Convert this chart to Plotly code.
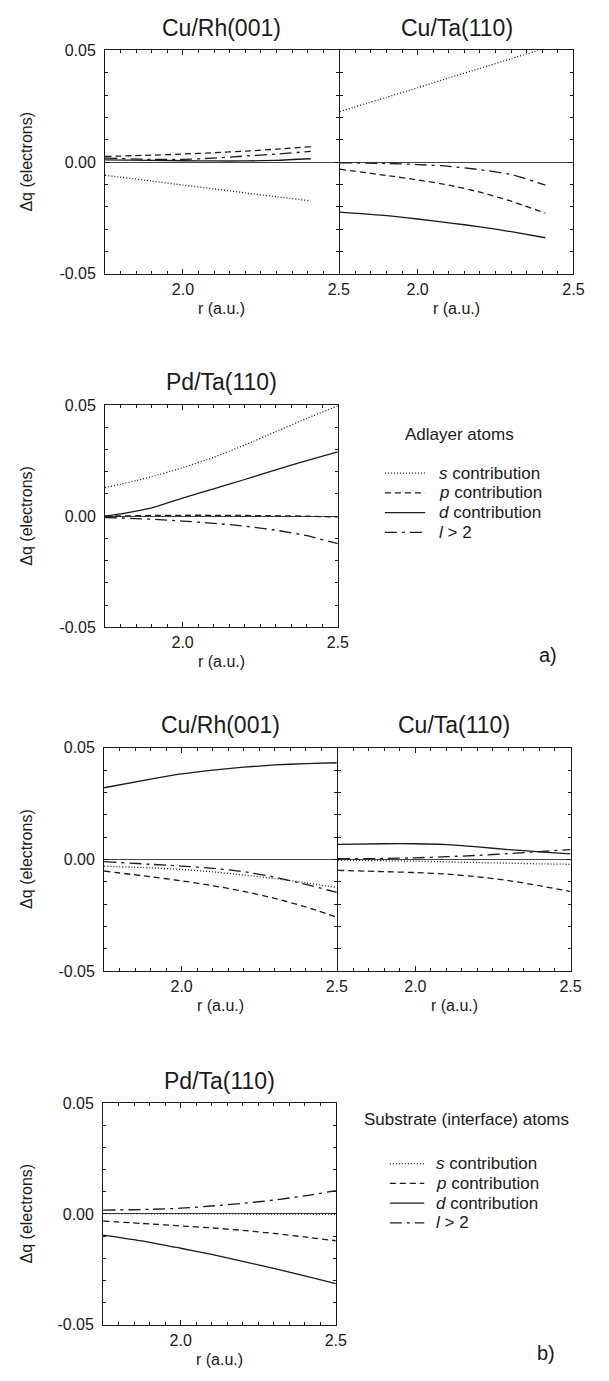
import plotly.graph_objects as go

W, H = 609, 1381

# ---------------- data ----------------
r_top = [1.75, 1.9, 2.0, 2.1, 2.2, 2.3, 2.41]
r_full = [1.75, 1.9, 2.0, 2.1, 2.2, 2.3, 2.4, 2.5]
r_pd = [1.75, 1.8, 1.85, 1.9, 2.0, 2.1, 2.2, 2.3, 2.4, 2.5]

# a) Adlayer atoms
ad_curh_s = [-0.0059, -0.0085, -0.0103, -0.0120, -0.0138, -0.0155, -0.0174]
ad_curh_p = [0.0025, 0.0031, 0.0036, 0.0042, 0.0049, 0.0058, 0.0069]
ad_curh_d = [0.0010, 0.0008, 0.0006, 0.0005, 0.0005, 0.0008, 0.0015]
ad_curh_l = [0.0018, 0.0012, 0.0012, 0.0018, 0.0027, 0.0036, 0.0048]

ad_cuta_s = [0.0226, 0.0290, 0.0333, 0.0377, 0.0420, 0.0463, 0.0510]
ad_cuta_p = [-0.0032, -0.0060, -0.0080, -0.0103, -0.0135, -0.0175, -0.0229]
ad_cuta_d = [-0.0224, -0.0240, -0.0255, -0.0272, -0.0290, -0.0312, -0.0339]
ad_cuta_l = [-0.0003, -0.0006, -0.0011, -0.0019, -0.0034, -0.0056, -0.0103]

ad_pdta_s = [0.0129, 0.0144, 0.0160, 0.0178, 0.0218, 0.0265, 0.0320, 0.0380, 0.0440, 0.0496]
ad_pdta_p = [0.0000, 0.0001, 0.0002, 0.0003, 0.0004, 0.0004, 0.0003, 0.0002, 0.0000, -0.0004]
ad_pdta_d = [0.0000, 0.0010, 0.0023, 0.0037, 0.0081, 0.0123, 0.0165, 0.0208, 0.0250, 0.0289]
ad_pdta_l = [-0.0006, -0.0008, -0.0011, -0.0014, -0.0022, -0.0032, -0.0045, -0.0063, -0.0088, -0.0124]

# b) Substrate (interface) atoms
su_curh_s = [-0.0030, -0.0038, -0.0045, -0.0056, -0.0070, -0.0086, -0.0105, -0.0126]
su_curh_p = [-0.0052, -0.0078, -0.0096, -0.0118, -0.0143, -0.0175, -0.0213, -0.0259]
su_curh_d = [0.0321, 0.0360, 0.0383, 0.0400, 0.0413, 0.0423, 0.0429, 0.0433]
su_curh_l = [-0.0010, -0.0022, -0.0030, -0.0040, -0.0055, -0.0080, -0.0112, -0.0148]

su_cuta_s = [-0.0003, -0.0006, -0.0008, -0.0011, -0.0014, -0.0017, -0.0020, -0.0022]
su_cuta_p = [-0.0049, -0.0055, -0.0059, -0.0066, -0.0078, -0.0095, -0.0118, -0.0144]
su_cuta_d = [0.0067, 0.0070, 0.0070, 0.0066, 0.0056, 0.0044, 0.0034, 0.0025]
su_cuta_l = [0.0003, 0.0004, 0.0007, 0.0012, 0.0018, 0.0026, 0.0035, 0.0044]

su_pdta_s = [0.0002, 0.0001, 0.0001, 0.0000, 0.0000, -0.0001, -0.0001, -0.0002]
su_pdta_p = [-0.0032, -0.0045, -0.0054, -0.0063, -0.0074, -0.0088, -0.0104, -0.0121]
su_pdta_d = [-0.0096, -0.0128, -0.0155, -0.0183, -0.0214, -0.0246, -0.0280, -0.0315]
su_pdta_l = [0.0017, 0.0021, 0.0026, 0.0036, 0.0048, 0.0063, 0.0082, 0.0105]

panel_titles = ["Cu/Rh(001)", "Cu/Ta(110)", "Pd/Ta(110)",
                "Cu/Rh(001)", "Cu/Ta(110)", "Pd/Ta(110)"]
legend_names = ["<i>s</i> contribution", "<i>p</i> contribution",
                "<i>d</i> contribution", "<i>l</i> > 2"]
legend_titles = ["Adlayer atoms", "Substrate (interface) atoms"]
panel_letters = ["a)", "b)"]
x_ticks = [2.0, 2.5]
x_ticktext = ["2.0", "2.5"]
y_ticks = [-0.05, 0.0, 0.05]
y_ticktext = ["-0.05", "0.00", "0.05"]

# ---------------- layout geometry (pixels) ----------------
FONT = "Liberation Sans, Arial, Helvetica, sans-serif"
INK = "#1a1a1a"
boxes = [  # x0, x1, y0(top), y1(bottom)
    (107, 345, 43, 269),
    (346, 584, 43, 269),
    (107, 344, 402, 627),
    (106, 343, 749, 975),
    (344, 581, 749, 975),
    (105, 342, 1109, 1333),
]
ylabels_on = [True, False, True, True, False, True]

panels = [
    (r_top, [ad_curh_s, ad_curh_p, ad_curh_d, ad_curh_l]),
    (r_top, [ad_cuta_s, ad_cuta_p, ad_cuta_d, ad_cuta_l]),
    (r_pd, [ad_pdta_s, ad_pdta_p, ad_pdta_d, ad_pdta_l]),
    (r_full, [su_curh_s, su_curh_p, su_curh_d, su_curh_l]),
    (r_full, [su_cuta_s, su_cuta_p, su_cuta_d, su_cuta_l]),
    (r_full, [su_pdta_s, su_pdta_p, su_pdta_d, su_pdta_l]),
]

dashes = ["1px,2px", "6px,4px", "solid", "12px,5px,3px,5px"]
LW = 1.3

# legend blocks: (title x-center, title y, swatch x0, swatch x1, text x, first row y, row step, letter x, letter y)
legend_geo = [
    (468, 432, 392, 433, 445, 471, 20, 558, 655),
    (475, 1125, 397, 432, 442, 1170, 20, 556, 1362),
]


def px_x(p):
    return p / W


def px_y(p):
    return 1 - p / H


fig = go.Figure()
layout = dict(
    width=W, height=H,
    margin=dict(l=0, r=0, t=0, b=0),
    paper_bgcolor="white", plot_bgcolor="white",
    font=dict(family=FONT, size=16, color=INK),
    showlegend=False,
)
annotations = []
shapes = []

for i, ((x0, x1, y0, y1), (rr, series)) in enumerate(zip(boxes, panels)):
    n = i + 1
    xa = "xaxis" if n == 1 else f"xaxis{n}"
    ya = "yaxis" if n == 1 else f"yaxis{n}"
    xr = "x" if n == 1 else f"x{n}"
    yr = "y" if n == 1 else f"y{n}"
    layout[xa] = dict(
        domain=[px_x(x0), px_x(x1)], anchor=yr, range=[1.75, 2.5],
        tickmode="array", tickvals=x_ticks, ticktext=x_ticktext,
        ticks="inside", ticklen=5, tickcolor=INK, tickwidth=1,
        minor=dict(tickmode="linear", tick0=1.75, dtick=0.05, ticks="inside",
                   ticklen=3, tickcolor=INK, tickwidth=1),
        showline=True, linecolor=INK, linewidth=1, mirror="allticks",
        showgrid=False, zeroline=False,
        tickfont=dict(family=FONT, size=16, color=INK),
        ticklabelstandoff=1,
    )
    layout[ya] = dict(
        domain=[px_y(y1), px_y(y0)], anchor=xr, range=[-0.05, 0.05],
        tickmode="array", tickvals=y_ticks, ticktext=y_ticktext,
        ticks="inside", ticklen=5, tickcolor=INK, tickwidth=1,
        minor=dict(tickmode="linear", tick0=0, dtick=0.01, ticks="inside",
                   ticklen=3, tickcolor=INK, tickwidth=1),
        showline=True, linecolor=INK, linewidth=1, mirror="allticks",
        showgrid=False, zeroline=True, zerolinecolor="#444", zerolinewidth=1,
        showticklabels=ylabels_on[i],
        tickfont=dict(family=FONT, size=16, color=INK),
        ticklabelstandoff=5,
    )
    for k, ys in enumerate(series):
        fig.add_trace(go.Scatter(
            x=rr, y=ys, mode="lines", xaxis=xr, yaxis=yr,
            name=legend_names[k], showlegend=False,
            line=dict(color=INK, width=LW, dash=dashes[k],
                      shape="spline", smoothing=0.6),
            hoverinfo="skip",
        ))
    cx = (x0 + x1) / 2
    annotations.append(dict(
        text=panel_titles[i], x=px_x(cx), y=px_y(y0 - 23), xref="paper", yref="paper",
        showarrow=False, xanchor="center", yanchor="middle",
        font=dict(family=FONT, size=23, color=INK)))
    annotations.append(dict(
        text="r (a.u.)", x=px_x(cx), y=px_y(y1 + 35), xref="paper", yref="paper",
        showarrow=False, xanchor="center", yanchor="middle",
        font=dict(family=FONT, size=16, color=INK)))
    if ylabels_on[i]:
        annotations.append(dict(
            text="Δq (electrons)", x=px_x(27), y=px_y((y0 + y1) / 2),
            xref="paper", yref="paper", textangle=-90,
            showarrow=False, xanchor="center", yanchor="middle",
            font=dict(family=FONT, size=16, color=INK)))

# legends (key lines styled like the series) and panel letters
for g, (tx, ty, sx0, sx1, txx, ry, step, lx, ly) in enumerate(legend_geo):
    annotations.append(dict(
        text=legend_titles[g], x=px_x(tx), y=px_y(ty), xref="paper", yref="paper",
        showarrow=False, xanchor="center", yanchor="middle",
        font=dict(family=FONT, size=17, color=INK)))
    for k, name in enumerate(legend_names):
        yy = ry + k * step
        shapes.append(dict(
            type="line", xref="paper", yref="paper",
            x0=px_x(sx0), x1=px_x(sx1), y0=px_y(yy), y1=px_y(yy),
            line=dict(color=INK, width=LW, dash=dashes[k])))
        annotations.append(dict(
            text=name, x=px_x(txx), y=px_y(yy), xref="paper", yref="paper",
            showarrow=False, xanchor="left", yanchor="middle",
            font=dict(family=FONT, size=17, color=INK)))
    annotations.append(dict(
        text=panel_letters[g], x=px_x(lx), y=px_y(ly), xref="paper", yref="paper",
        showarrow=False, xanchor="center", yanchor="middle",
        font=dict(family=FONT, size=20, color=INK)))

layout["annotations"] = annotations
layout["shapes"] = shapes

fig.update_layout(**layout)
fig.write_html("out.html")
